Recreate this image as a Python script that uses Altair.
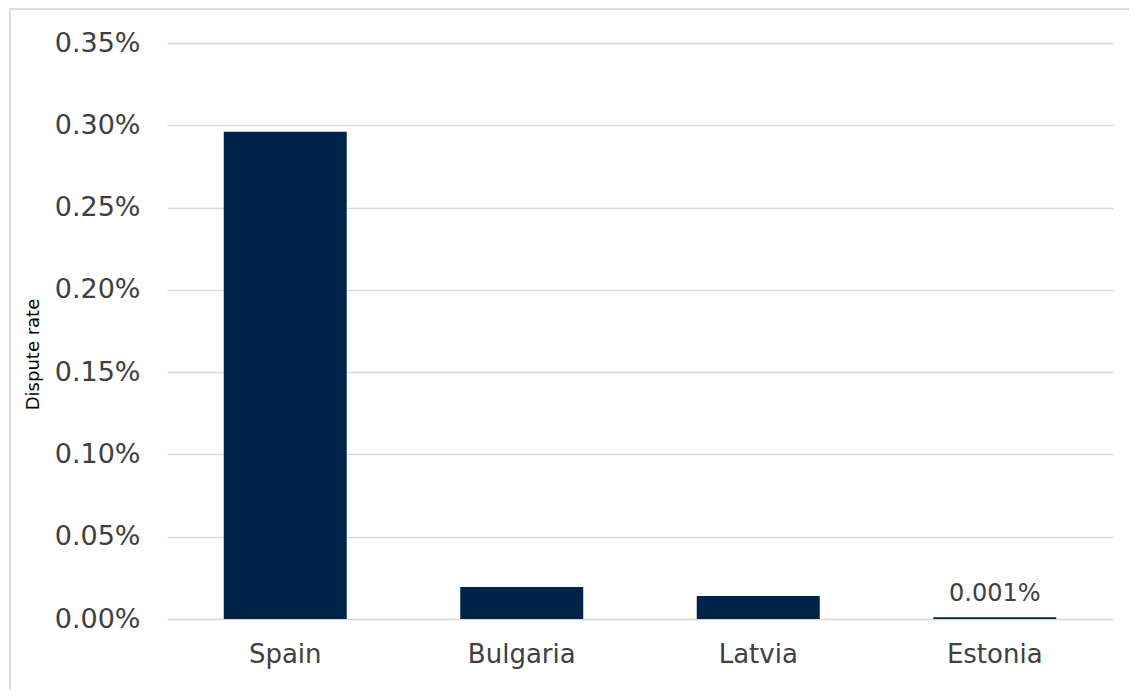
import altair as alt
import pandas as pd

countries = ["Spain", "Bulgaria", "Latvia", "Estonia"]
rates = [0.296, 0.0194, 0.014, 0.001]
labels = ["", "", "", "0.001%"]

df = pd.DataFrame({"country": countries, "rate": rates, "label": labels})

FONT = "DejaVu Sans"
TEXT = "#404040"
W, H = 946, 576

x = alt.X("country:N", sort=countries, title=None,
          scale=alt.Scale(paddingInner=0.48, paddingOuter=0.24),
          axis=alt.Axis(labelAngle=0, labelFont=FONT, labelFontSize=26,
                        labelColor=TEXT, labelPadding=22, ticks=False,
                        domain=False, grid=False))
y = alt.Y("rate:Q", title="Dispute rate",
          scale=alt.Scale(domain=[0, 0.35], nice=False),
          axis=alt.Axis(values=[0, 0.05, 0.10, 0.15, 0.20, 0.25, 0.30, 0.35],
                        labelExpr="format(datum.value, '.2f') + '%'",
                        labelFont=FONT, labelFontSize=27, labelColor=TEXT,
                        labelPadding=27, ticks=False, domain=False,
                        gridColor="#d9d9d9", gridWidth=1.5,
                        titleFont=FONT, titleFontSize=18, titleFontWeight="normal",
                        titleColor="#000000", titleX=-134, titleY=311,
                        titleAngle=-90, titleAlign="center", titleBaseline="middle"))

bars = alt.Chart(df).mark_bar(color="#00234a").encode(x=x, y=y)
text = alt.Chart(df).mark_text(font=FONT, fontSize=24, color=TEXT, baseline="bottom", dy=-11).encode(
    x=alt.X("country:N", sort=countries), y="rate:Q", text="label:N")

one = pd.DataFrame({"a": [0]})
top_rule = alt.Chart(one).mark_rule(color="#dcdcdc", strokeWidth=2, clip=False).encode(
    x=alt.value(-157), x2=alt.value(W + 40), y=alt.value(-34))
left_rule = alt.Chart(one).mark_rule(color="#dcdcdc", strokeWidth=2, clip=False).encode(
    x=alt.value(-157), y=alt.value(-34), y2=alt.value(H + 80))

chart = alt.layer(top_rule, left_rule, bars, text).properties(
    width=W, height=H,
    background="white",
    autosize=alt.AutoSizeParams(type="none"),
    padding={"left": 159, "top": 35, "right": 16, "bottom": 71},
).configure_view(stroke="transparent")

chart.save("out.html", embed_options={"renderer": "svg", "actions": False})
